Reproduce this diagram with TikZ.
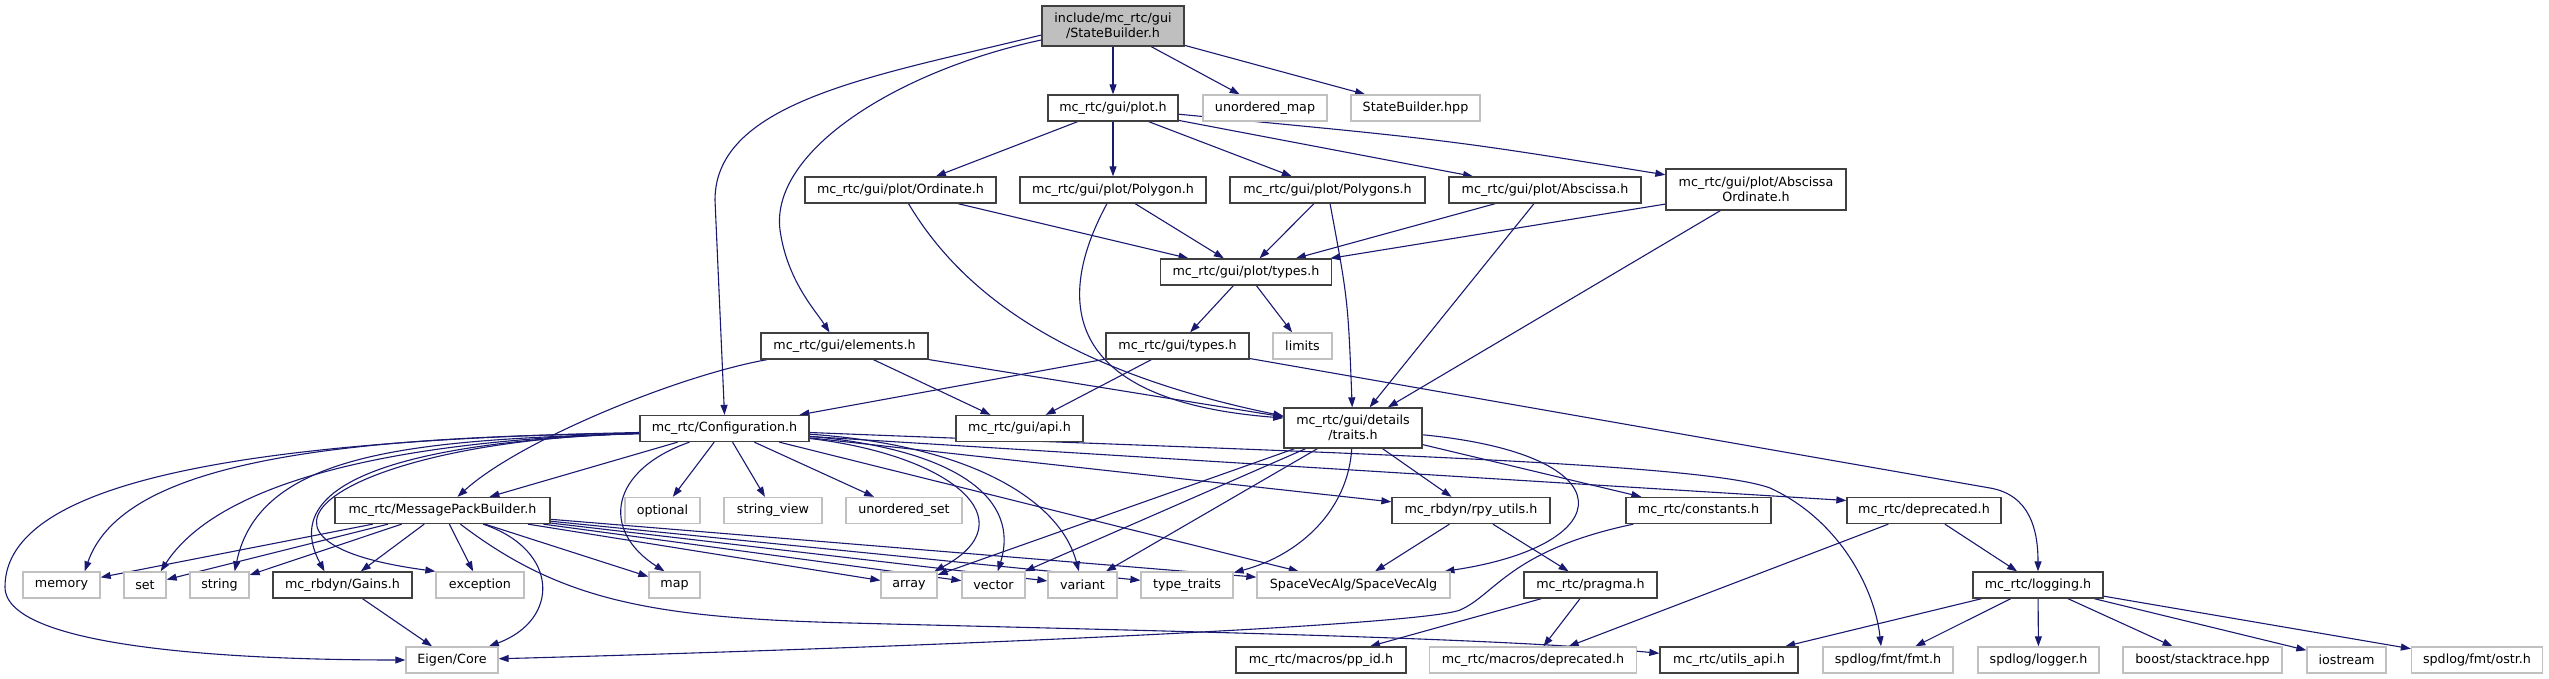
\documentclass[tikz,border=0pt]{standalone}
\usepackage{fontspec}
\setmainfont{DejaVu Sans}
\usetikzlibrary{arrows.meta}
\definecolor{edgeblue}{HTML}{191970}
\definecolor{boxdark}{HTML}{404040}
\definecolor{boxlight}{HTML}{C0C0C0}
\definecolor{rootfill}{HTML}{BFBFBF}
\pgfdeclarelayer{background}
\pgfsetlayers{background,main}
\tikzset{
  box/.style={draw=boxdark, line width=1.3pt, fill=white, minimum height=26pt, inner sep=0pt, align=center, font=\fontsize{12.7}{14.5}\selectfont},
  ext/.style={box, draw=boxlight},
  root/.style={box, fill=rootfill},
  edge/.style={draw=edgeblue, line width=1.1pt, -{Triangle[length=10pt,width=7pt]}},
}
\begin{document}
\begin{tikzpicture}[x=1pt,y=-1pt]
\useasboundingbox (0,0) rectangle (2549,679);
% row 0
\node[root, minimum width=142pt, minimum height=40pt] (n0) at (1113,26) {include/mc\_rtc/gui\\/StateBuilder.h};
% row 1
\node[box, minimum width=130pt] (n1) at (1113,108) {mc\_rtc/gui/plot.h};
\node[ext, minimum width=124pt] (n2) at (1265,108) {unordered\_map};
\node[ext, minimum width=129pt] (n3) at (1415.5,108) {StateBuilder.hpp};
% row 2
\node[box, minimum width=191pt] (n4) at (900.5,190) {mc\_rtc/gui/plot/Ordinate.h};
\node[box, minimum width=186pt] (n5) at (1113,190) {mc\_rtc/gui/plot/Polygon.h};
\node[box, minimum width=195pt] (n6) at (1327.5,190) {mc\_rtc/gui/plot/Polygons.h};
\node[box, minimum width=192pt] (n7) at (1545,190) {mc\_rtc/gui/plot/Abscissa.h};
\node[box, minimum width=180pt, minimum height=41pt] (n8) at (1756,189.5) {mc\_rtc/gui/plot/Abscissa\\Ordinate.h};
% row 3
\node[box, minimum width=171pt] (n9) at (1246,272) {mc\_rtc/gui/plot/types.h};
% row 4
\node[box, minimum width=167pt] (n10) at (844.5,346) {mc\_rtc/gui/elements.h};
\node[box, minimum width=143pt] (n11) at (1177.5,346) {mc\_rtc/gui/types.h};
\node[ext, minimum width=59pt] (n12) at (1302.5,346) {limits};
% row 5
\node[box, minimum width=169pt] (n13) at (724.5,428.5) {mc\_rtc/Configuration.h};
\node[box, minimum width=127pt] (n14) at (1019.5,428.5) {mc\_rtc/gui/api.h};
\node[box, minimum width=138pt, minimum height=40pt] (n15) at (1353,428) {mc\_rtc/gui/details\\/traits.h};
% row 6
\node[box, minimum width=215pt] (n16) at (442.5,510.5) {mc\_rtc/MessagePackBuilder.h};
\node[ext, minimum width=75pt] (n17) at (662.5,510.5) {optional};
\node[ext, minimum width=98pt] (n18) at (773,510.5) {string\_view};
\node[ext, minimum width=116pt] (n19) at (904,510.5) {unordered\_set};
\node[box, minimum width=158pt] (n20) at (1471,510.5) {mc\_rbdyn/rpy\_utils.h};
\node[box, minimum width=145pt] (n21) at (1698.5,510.5) {mc\_rtc/constants.h};
\node[box, minimum width=154pt] (n22) at (1924,510.5) {mc\_rtc/deprecated.h};
% row 7
\node[ext, minimum width=77pt] (n23) at (61.5,585) {memory};
\node[ext, minimum width=42pt] (n24) at (145,585) {set};
\node[ext, minimum width=59pt] (n25) at (219.5,585) {string};
\node[box, minimum width=139pt] (n26) at (342.5,585) {mc\_rbdyn/Gains.h};
\node[ext, minimum width=88pt] (n27) at (480,585) {exception};
\node[ext, minimum width=51pt] (n28) at (674.5,585) {map};
\node[ext, minimum width=56pt] (n29) at (909,585) {array};
\node[ext, minimum width=63pt] (n30) at (993.5,585) {vector};
\node[ext, minimum width=69pt] (n31) at (1082.5,585) {variant};
\node[ext, minimum width=92pt] (n32) at (1187,585) {type\_traits};
\node[ext, minimum width=193pt] (n33) at (1353.5,585) {SpaceVecAlg/SpaceVecAlg};
\node[box, minimum width=133pt] (n34) at (1590.5,585) {mc\_rtc/pragma.h};
\node[box, minimum width=130pt] (n35) at (2038,585) {mc\_rtc/logging.h};
% row 8
\node[ext, minimum width=92pt] (n36) at (452,660) {Eigen/Core};
\node[box, minimum width=170pt] (n37) at (1321,660) {mc\_rtc/macros/pp\_id.h};
\node[ext, minimum width=207pt] (n38) at (1533,660) {mc\_rtc/macros/deprecated.h};
\node[box, minimum width=138pt] (n39) at (1729,660) {mc\_rtc/utils\_api.h};
\node[ext, minimum width=130pt] (n40) at (1888,660) {spdlog/fmt/fmt.h};
\node[ext, minimum width=121pt] (n41) at (2038.5,660) {spdlog/logger.h};
\node[ext, minimum width=159pt] (n42) at (2202.5,660) {boost/stacktrace.hpp};
\node[ext, minimum width=79pt] (n43) at (2346.5,660) {iostream};
\node[ext, minimum width=131pt] (n44) at (2477,660) {spdlog/fmt/ostr.h};

\begin{pgfonlayer}{background}
% root
\draw[edge] (n0) -- (n1);
\draw[edge] (n0) -- (n2);
\draw[edge] (n0) -- (n3);
\draw[edge] ([yshift=-14pt]n0.west) .. controls (900,70) and (770,150) .. (780,230) .. controls (787,280) and (815,310) .. ([xshift=-15pt]n10.north);
\draw[edge] ([yshift=-9pt]n0.west) .. controls (880,75) and (715,100) .. (715,200) -- (n13.north);
% plot.h
\draw[edge] (n1) -- (n4);
\draw[edge] (n1) -- (n5);
\draw[edge] (n1) -- (n6);
\draw[edge] (n1) -- (n7);
\draw[edge] (n1) .. controls (1450,140) .. (n8);
% row 2
\draw[edge] (n4) -- (n9);
\draw[edge] ([xshift=8pt]n4.south) .. controls (960,290) and (1060,370) .. ([yshift=12pt]n15.west);
\draw[edge] (n5) -- (n9);
\draw[edge] ([xshift=-6pt]n5.south) .. controls (1060,290) and (1050,400) .. ([yshift=10pt]n15.west);
\draw[edge] (n6) -- (n9);
\draw[edge] (n6) .. controls (1348,300) .. (n15);
\draw[edge] (n7) -- (n9);
\draw[edge] (n7) -- (n15);
\draw[edge] (n8) -- (n9);
\draw[edge] (n8) -- (n15);
% plot/types.h
\draw[edge] (n9) -- (n11);
\draw[edge] (n9) -- (n12);
% elements.h
\draw[edge] (n10) .. controls (680,375) and (520,440) .. (n16);
\draw[edge] (n10) -- (n14);
\draw[edge] (n10) -- (n15);
% gui/types.h
\draw[edge] (n11) -- (n13);
\draw[edge] (n11) -- (n14);
\draw[edge] (n11) -- (1990,488) .. controls (2030,495) and (2038,530) .. (n35);
% Configuration.h
\draw[edge] (n13) -- (n16);
\draw[edge] (n13) -- (n17);
\draw[edge] (n13) -- (n18);
\draw[edge] (n13) -- (n19);
\draw[edge] ([xshift=-35pt]n13.south) .. controls (610,470) and (600,530) .. ([xshift=-10pt]n28.north);
\draw[edge] ([yshift=-5pt]n13.west) .. controls (300,436) and (120,470) .. ([xshift=-16pt]n23.north east);
\draw[edge] ([yshift=-5pt]n13.west) .. controls (400,440) and (220,480) .. ([xshift=-6pt]n24.north east);
\draw[edge] ([yshift=-5pt]n13.west) .. controls (420,440) and (260,450) .. ([xshift=-15pt]n25.north east);
\draw[edge] ([yshift=-5pt]n13.west) .. controls (450,440) and (270,470) .. ([xshift=-18pt]n26.north);
\draw[edge] ([yshift=-5pt]n13.west) .. controls (350,440) and (200,540) .. (n27.north west);
\draw[edge] ([yshift=-4pt]n13.west) .. controls (250,440) and (5,480) .. (5,587) .. controls (5,650) and (250,660) .. (n36.west);
\draw[edge] (n13) .. controls (950,455) and (1030,520) .. (n29);
\draw[edge] (n13) .. controls (960,450) and (1020,500) .. (n30);
\draw[edge] (n13) .. controls (970,445) and (1060,500) .. (n31);
\draw[edge] (n13) -- (n33);
\draw[edge] (n13) -- (n20);
\draw[edge] ([yshift=-8pt]n13.east) -- ([yshift=10pt]n22.west);
\draw[edge] ([yshift=-4pt]n13.east) .. controls (1300,452) and (1700,462) .. (1770,488) .. controls (1840,520) and (1875,590) .. ([xshift=-7pt]n40.north);
% MessagePackBuilder.h
\draw[edge] (n16) -- (n23);
\draw[edge] (n16) -- (n24);
\draw[edge] (n16) -- (n25);
\draw[edge] (n16) -- (n26);
\draw[edge] (n16) -- (n27);
\draw[edge] (n16) -- (n28);
\draw[edge] (n16) .. controls (560,550) and (560,620) .. (n36);
\draw[edge] (n16) .. controls (560,600) and (650,618) .. (850,623) .. controls (1200,632) and (1500,638) .. (n39);
\draw[edge] (n16) -- (n29);
\draw[edge] (n16) -- (n30);
\draw[edge] (n16) -- (n31);
\draw[edge] (n16) -- (n32);
\draw[edge] (n16) -- (n33);
% Gains.h
\draw[edge] (n26) -- (n36);
% traits.h
\draw[edge] (n15) -- (n29);
\draw[edge] (n15) -- (n30);
\draw[edge] (n15) -- (n31);
\draw[edge] (n15) .. controls (1348,510) and (1300,555) .. (n32);
\draw[edge] (n15) -- (n20);
\draw[edge] (n15) -- (n21);
\draw[edge] (n15) .. controls (1630,455) and (1620,545) .. (n33);
% rpy_utils.h
\draw[edge] (n20) -- (n33);
\draw[edge] (n20) -- (n34);
% constants.h
\draw[edge] (n21) .. controls (1510,550) and (1495,595) .. (1460,610) .. controls (1420,626) and (900,648) .. (n36);
% pragma.h
\draw[edge] (n34) -- (n37);
\draw[edge] (n34) -- (n38);
% deprecated.h
\draw[edge] (n22) -- (n38);
\draw[edge] (n22) -- (n35);
% logging.h
\draw[edge] (n35) -- (n39);
\draw[edge] (n35) -- (n40);
\draw[edge] (n35) -- (n41);
\draw[edge] (n35) -- (n42);
\draw[edge] (n35) -- (n43);
\draw[edge] (n35) -- (n44);
\end{pgfonlayer}
\end{tikzpicture}
\end{document}
